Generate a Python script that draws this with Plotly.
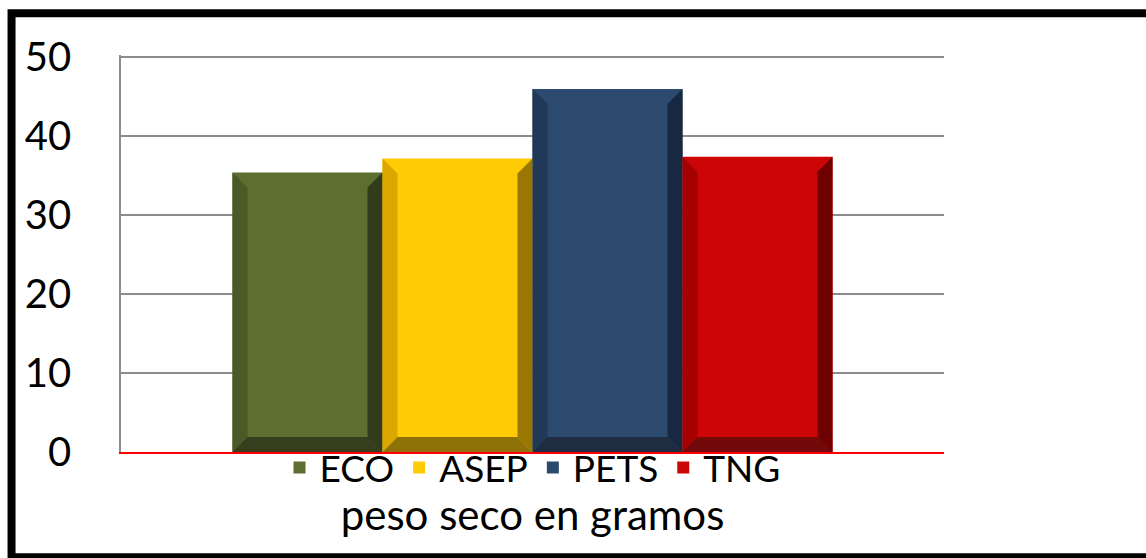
import plotly.graph_objects as go

# ---- data ----
categoria = "peso seco en gramos"
series = ["ECO", "ASEP", "PETS", "TNG"]
values = [35.4, 37.2, 46.0, 37.4]
y_ticks = [0, 10, 20, 30, 40, 50]

# ---- styles ----
face = ["#5c6e30", "#fecb05", "#2c4a6e", "#cc0606"]
left_c = ["#4a5a27", "#dca700", "#223859", "#a70000"]
right_c = ["#323c1a", "#9a7700", "#172840", "#6f0000"]
bottom_c = ["#353f1d", "#8f7109", "#1f2c42", "#730a0a"]

FONT = "Lato"
bar_w = 1.0
bx = 0.1      # bevel width (x units)
by = 1.9      # bevel height (y units)

fig = go.Figure()

for i, (name, v) in enumerate(zip(series, values)):
    fig.add_trace(go.Bar(
        x=[i], y=[v], width=bar_w, name=name,
        marker=dict(color=face[i], line=dict(width=0)),
        hoverinfo="y", showlegend=True,
    ))

for i, v in enumerate(values):
    L, R, T = i - bar_w / 2, i + bar_w / 2, v
    polys = [
        ([L, L, L + bx, L + bx, L], [0, T, T - by, by, 0], left_c[i]),
        ([R, R, R - bx, R - bx, R], [0, T, T - by, by, 0], right_c[i]),
        ([L, R, R - bx, L + bx, L], [0, 0, by, by, 0], bottom_c[i]),
    ]
    for xs, ys, c in polys:
        fig.add_trace(go.Scatter(
            x=xs, y=ys, mode="lines", fill="toself", fillcolor=c,
            line=dict(width=0, color=c), hoverinfo="skip", showlegend=False,
        ))

fig.update_layout(
    width=1146, height=558,
    margin=dict(l=121, r=202, t=55, b=106),
    paper_bgcolor="white", plot_bgcolor="white",
    barmode="overlay",
    font=dict(family=FONT, color="black", size=38),
    showlegend=True,
    legend=dict(
        orientation="h", x=0.5, xanchor="center", y=-0.04, yanchor="middle",
        font=dict(family=FONT, size=37, color="black"),
        bgcolor="rgba(0,0,0,0)", itemwidth=30, tracegroupgap=0,
        traceorder="normal",
    ),
    xaxis=dict(
        range=[-1.243, 4.243], showgrid=False, zeroline=False,
        showticklabels=False, ticks="",
        showline=True, linecolor="#ff0000", linewidth=2, layer="above traces",
        title=dict(text=categoria, font=dict(family=FONT, size=42), standoff=48),
        fixedrange=True,
    ),
    yaxis=dict(
        range=[0, 50.3], tickvals=y_ticks, showgrid=True, gridcolor="#8c8c8c",
        gridwidth=1.5, zeroline=False, showline=True, linecolor="#8c8c8c",
        linewidth=1.5, ticks="", ticklabelstandoff=40,
        tickfont=dict(family=FONT, size=40, color="black"), fixedrange=True,
    ),
    shapes=[dict(
        type="rect", xref="paper", yref="paper",
        x0=-0.133, x1=1.26, y0=-0.265, y1=1.105,
        line=dict(color="black", width=8), fillcolor="rgba(0,0,0,0)", layer="above",
    )],
)

fig.write_html("out.html")
